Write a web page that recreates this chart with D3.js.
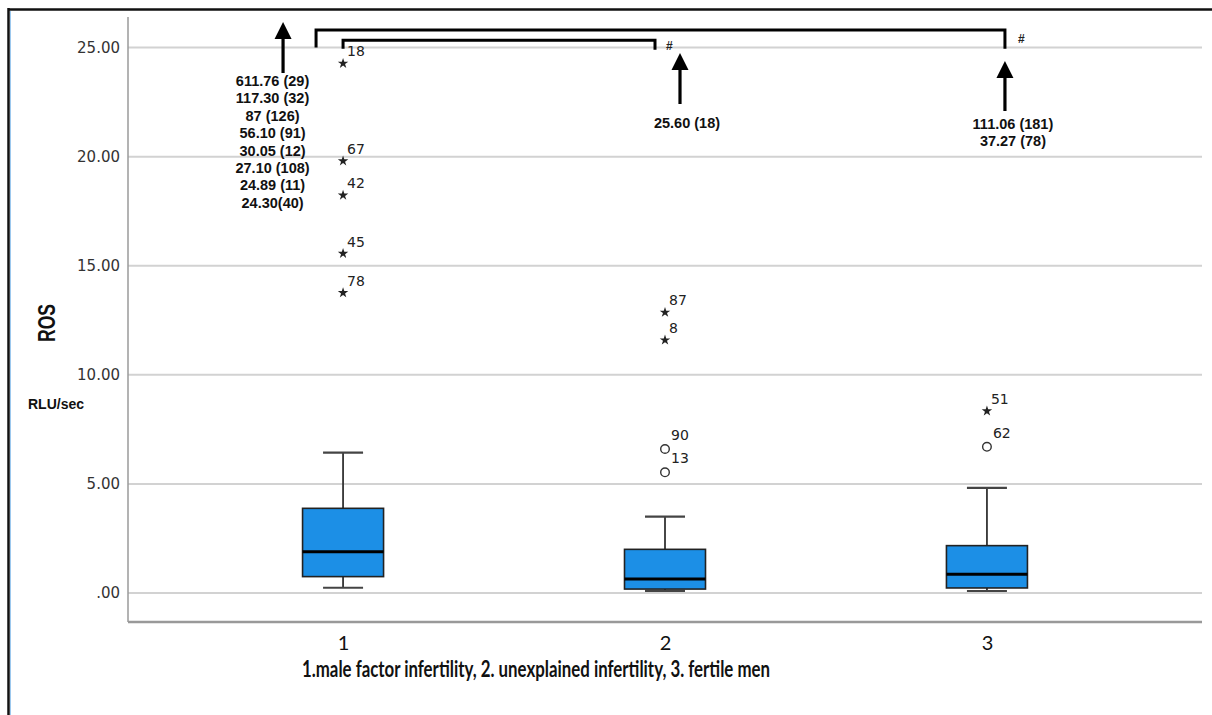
<!DOCTYPE html>
<html>
<head>
<meta charset="utf-8">
<script src="https://cdn.jsdelivr.net/npm/d3@7"></script>
<style>
  html, body { margin: 0; padding: 0; background: #fff; }
  svg { display: block; }
</style>
</head>
<body>
<svg id="chart" width="1212" height="715"></svg>
<script>
// ---------------- data ----------------
const categories = ["1", "2", "3"];
const whiskerLow  = [0.24, 0.10, 0.09];
const q1          = [0.75, 0.18, 0.23];
const medians     = [1.89, 0.64, 0.86];
const q3          = [3.88, 2.00, 2.17];
const whiskerHigh = [6.43, 3.50, 4.82];

// outliers (circle = mild, star = extreme)
const outlierGroup = ["1", "1", "1", "1", "1", "2", "2", "2", "2", "3", "3"];
const outlierValue = [24.27, 19.80, 18.23, 15.56, 13.76, 12.86, 11.59, 6.60, 5.53, 8.34, 6.70];
const outlierId    = ["18", "67", "42", "45", "78", "87", "8", "90", "13", "51", "62"];
const outlierKind  = ["star", "star", "star", "star", "star", "star", "star", "circle", "circle", "star", "circle"];

const yTicks = [0, 5, 10, 15, 20, 25];
const yTickLabels = [".00", "5.00", "10.00", "15.00", "20.00", "25.00"];

// off-scale values noted above each group
const offScaleGroup1 = ["611.76 (29)", "117.30 (32)", "87 (126)", "56.10 (91)", "30.05 (12)", "27.10 (108)", "24.89 (11)", "24.30(40)"];
const offScaleGroup2 = ["25.60 (18)"];
const offScaleGroup3 = ["111.06 (181)", "37.27 (78)"];

const xAxisTitle = "1.male factor infertility, 2. unexplained infertility, 3. fertile men";
const yAxisTitle = "ROS";
const yUnit = "RLU/sec";

// ---------------- layout ----------------
const svg = d3.select("#chart");
const plotLeft = 128, plotRight = 1202, plotTop = 17, plotBottom = 622;

const x = d3.scalePoint().domain(categories).range([plotLeft, plotRight]).padding(0.668);
const y = d3.scaleLinear().domain([-1.33, 26.4]).range([plotBottom, plotTop]);

const boxW = 81, capW = 40;
const boxFill = "#1c8fe6";

// frame border (top + left)
svg.append("line").attr("x1", 8).attr("x2", 1212).attr("y1", 9.5).attr("y2", 9.5)
  .attr("stroke", "#111").attr("stroke-width", 2.5);
svg.append("line").attr("x1", 8.5).attr("x2", 8.5).attr("y1", 8).attr("y2", 715)
  .attr("stroke", "#111").attr("stroke-width", 2.5);
svg.append("line").attr("x1", 10.5).attr("x2", 10.5).attr("y1", 11).attr("y2", 715)
  .attr("stroke", "#9cc8ee").attr("stroke-width", 1);

// gridlines
svg.append("g").selectAll("line").data(yTicks).join("line")
  .attr("x1", plotLeft).attr("x2", plotRight)
  .attr("y1", d => y(d)).attr("y2", d => y(d))
  .attr("stroke", "#d2d2d2").attr("stroke-width", 2);

// y axis
const yAxis = d3.axisLeft(y).tickValues(yTicks)
  .tickFormat((d, i) => yTickLabels[i]).tickSize(0).tickPadding(8);
const gy = svg.append("g").attr("transform", `translate(${plotLeft},0)`).call(yAxis);
gy.select(".domain").remove();
gy.selectAll("text").attr("font-family", "DejaVu Sans").attr("font-size", 15).attr("fill", "#333");
svg.append("line").attr("x1", plotLeft).attr("x2", plotLeft).attr("y1", plotTop).attr("y2", plotBottom)
  .attr("stroke", "#9a9a9a").attr("stroke-width", 1.5);

// x axis
const xAxis = d3.axisBottom(x).tickSize(0).tickPadding(14);
const gx = svg.append("g").attr("transform", `translate(0,${plotBottom})`).call(xAxis);
gx.select(".domain").remove();
gx.selectAll("text").attr("font-family", "Lato").attr("font-size", 20).attr("fill", "#111");
svg.append("line").attr("x1", plotLeft).attr("x2", plotRight).attr("y1", plotBottom).attr("y2", plotBottom)
  .attr("stroke", "#999").attr("stroke-width", 2.5);

// axis titles
svg.append("text").attr("x", 536).attr("y", 677).attr("text-anchor", "middle")
  .attr("font-family", "Lato").attr("font-weight", "bold").attr("font-size", 22.5)
  .attr("fill", "#111").attr("textLength", 468).attr("lengthAdjust", "spacingAndGlyphs")
  .text(xAxisTitle);
svg.append("text").attr("transform", "translate(55,323) rotate(-90)").attr("text-anchor", "middle")
  .attr("font-family", "Liberation Sans").attr("font-weight", "bold").attr("font-size", 23)
  .attr("fill", "#111").attr("textLength", 38).attr("lengthAdjust", "spacingAndGlyphs")
  .text(yAxisTitle);
svg.append("text").attr("x", 28).attr("y", 409)
  .attr("font-family", "Liberation Sans").attr("font-weight", "bold").attr("font-size", 14)
  .attr("fill", "#111").text(yUnit);

// boxes
const boxes = categories.map((c, i) => ({c, lo: whiskerLow[i], q1: q1[i], med: medians[i], q3: q3[i], hi: whiskerHigh[i]}));
const gb = svg.append("g").selectAll("g").data(boxes).join("g");
gb.append("line").attr("x1", d => x(d.c)).attr("x2", d => x(d.c))
  .attr("y1", d => y(d.hi)).attr("y2", d => y(d.q3)).attr("stroke", "#333").attr("stroke-width", 1.8);
gb.append("line").attr("x1", d => x(d.c)).attr("x2", d => x(d.c))
  .attr("y1", d => y(d.q1)).attr("y2", d => y(d.lo)).attr("stroke", "#333").attr("stroke-width", 1.8);
gb.append("line").attr("x1", d => x(d.c) - capW / 2).attr("x2", d => x(d.c) + capW / 2)
  .attr("y1", d => y(d.hi)).attr("y2", d => y(d.hi)).attr("stroke", "#444").attr("stroke-width", 2.2);
gb.append("line").attr("x1", d => x(d.c) - capW / 2).attr("x2", d => x(d.c) + capW / 2)
  .attr("y1", d => y(d.lo)).attr("y2", d => y(d.lo)).attr("stroke", "#444").attr("stroke-width", 2.2);
gb.append("rect").attr("x", d => x(d.c) - boxW / 2).attr("width", boxW)
  .attr("y", d => y(d.q3)).attr("height", d => y(d.q1) - y(d.q3))
  .attr("fill", boxFill).attr("stroke", "#222").attr("stroke-width", 1.6);
gb.append("line").attr("x1", d => x(d.c) - boxW / 2).attr("x2", d => x(d.c) + boxW / 2)
  .attr("y1", d => y(d.med)).attr("y2", d => y(d.med)).attr("stroke", "#000").attr("stroke-width", 3);

// outliers
const outliers = outlierValue.map((v, i) => ({g: outlierGroup[i], v, id: outlierId[i], kind: outlierKind[i]}));
const go = svg.append("g");
go.selectAll("path.star").data(outliers.filter(d => d.kind === "star")).join("path")
  .attr("class", "star")
  .attr("d", d3.symbol(d3.symbolStar, 34))
  .attr("transform", d => `translate(${x(d.g)},${y(d.v)})`)
  .attr("fill", "#222");
go.selectAll("circle").data(outliers.filter(d => d.kind === "circle")).join("circle")
  .attr("cx", d => x(d.g)).attr("cy", d => y(d.v)).attr("r", 4.3)
  .attr("fill", "#fff").attr("stroke", "#333").attr("stroke-width", 1.4);
go.selectAll("text").data(outliers).join("text")
  .attr("x", d => x(d.g) + (d.kind === "star" ? 4 : 6))
  .attr("y", d => y(d.v) - (d.kind === "star" ? 7 : 9))
  .attr("font-family", "DejaVu Sans").attr("font-size", 14).attr("fill", "#222")
  .text(d => d.id);

// significance brackets
const ga = svg.append("g").attr("fill", "none").attr("stroke", "#000").attr("stroke-width", 3);
ga.append("path").attr("d",
  `M${x("1") - 27},${y(25)} V${y(25.8)} H${x("3") + 18} V${y(24.95)}`);
ga.append("path").attr("d",
  `M${x("1")},${y(24.95)} V${y(25.33)} H${x("2") - 10} V${y(24.9)}`);
svg.append("text").attr("x", x("2") + 1).attr("y", y(24.95) + 1).attr("font-family", "Liberation Sans")
  .attr("font-size", 12).attr("font-weight", "bold").attr("fill", "#222").text("#");
svg.append("text").attr("x", x("3") + 31).attr("y", y(25.25) + 1).attr("font-family", "Liberation Sans")
  .attr("font-size", 12).attr("font-weight", "bold").attr("fill", "#222").text("#");

// arrows with off-scale values
function arrow(cx, tipY, baseY) {
  const head = 17;
  svg.append("line").attr("x1", cx).attr("x2", cx).attr("y1", baseY).attr("y2", tipY + head - 1)
    .attr("stroke", "#000").attr("stroke-width", 3.2);
  svg.append("path").attr("d", `M${cx},${tipY} L${cx - 8.5},${tipY + head} L${cx + 8.5},${tipY + head} Z`)
    .attr("fill", "#000");
}
function noteLines(lines, cx, firstBaseline, step) {
  svg.append("g").selectAll("text").data(lines).join("text")
    .attr("x", cx).attr("y", (d, i) => firstBaseline + i * step)
    .attr("text-anchor", "middle")
    .attr("font-family", "Liberation Sans").attr("font-weight", "bold").attr("font-size", 14.5)
    .attr("fill", "#111").text(d => d);
}
arrow(x("1") - 60, 22, 73);
noteLines(offScaleGroup1, x("1") - 70.5, 86, 17.4);
arrow(x("2") + 15, 53, 104);
noteLines(offScaleGroup2, x("2") + 22, 128, 17.4);
arrow(x("3") + 18, 61, 111);
noteLines(offScaleGroup3, x("3") + 26, 128.5, 17);
</script>
</body>
</html>
